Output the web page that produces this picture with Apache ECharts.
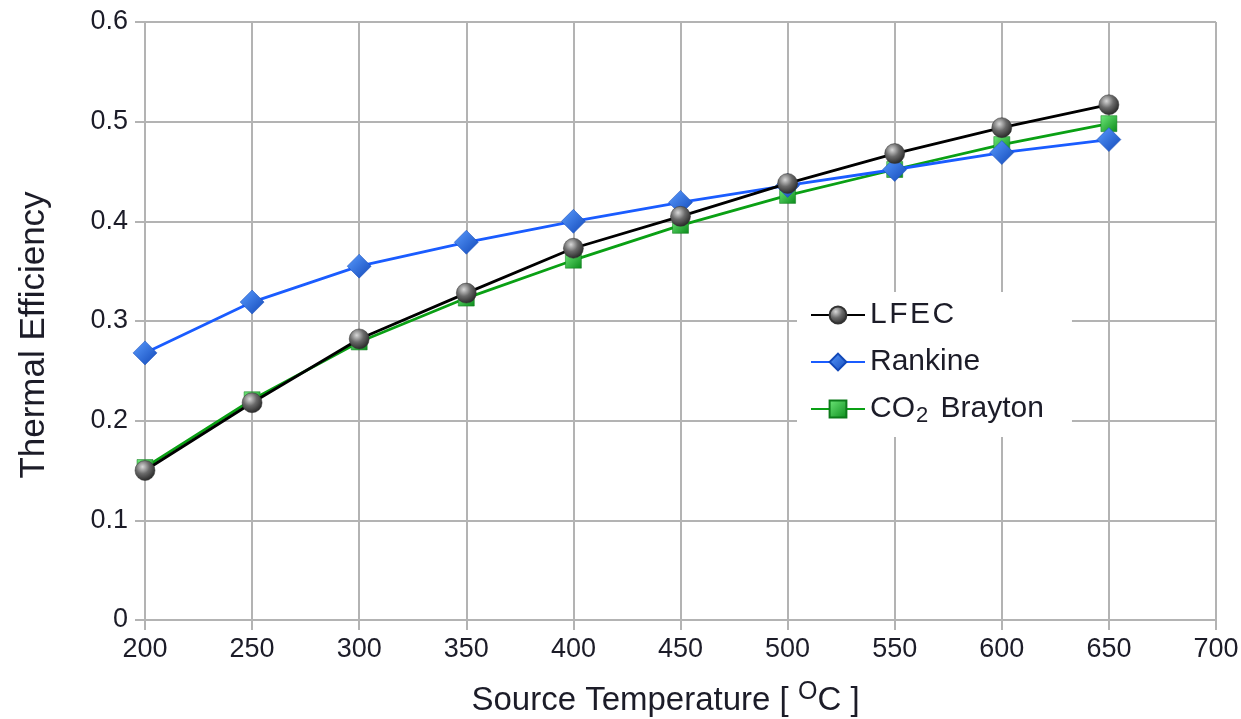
<!DOCTYPE html>
<html>
<head>
<meta charset="utf-8">
<script src="https://cdn.jsdelivr.net/npm/echarts@6/dist/echarts.min.js"></script>
<style>
  html, body { margin: 0; padding: 0; background: #fff; }
  #chart { width: 1241px; height: 719px; }
</style>
</head>
<body>
<div id="chart"></div>
<script>
// Source temperature (°C) and thermal efficiency per cycle
const temperatures = [200, 250, 300, 350, 400, 450, 500, 550, 600, 650];
const lfec = [0.150, 0.218, 0.282, 0.328, 0.373, 0.405, 0.438, 0.468, 0.494, 0.517];
const rankine = [0.268, 0.319, 0.355, 0.379, 0.400, 0.419, 0.436, 0.452, 0.469, 0.482];
const co2Brayton = [0.153, 0.221, 0.279, 0.323, 0.361, 0.396, 0.426, 0.452, 0.477, 0.498];
const seriesNames = ['LFEC', 'Rankine', 'CO2 Brayton'];

const FONT = '"Liberation Sans", Arial, sans-serif';
const TEXT = '#1c1c28';

function pairs(ys) { return temperatures.map((t, i) => [t, ys[i]]); }

function radial(c0, c1, c2) {
  return new echarts.graphic.RadialGradient(0.38, 0.32, 0.75, [
    { offset: 0, color: c0 }, { offset: 0.45, color: c1 }, { offset: 1, color: c2 }
  ]);
}
function linear(c0, c1) {
  return new echarts.graphic.LinearGradient(0, 0, 1, 1, [
    { offset: 0, color: c0 }, { offset: 1, color: c1 }
  ]);
}

const chart = echarts.init(document.getElementById('chart'), null, { renderer: 'canvas' });

chart.setOption({
  backgroundColor: '#ffffff',
  animation: false,
  grid: { left: 145, right: 25, top: 22, bottom: 99, containLabel: false, outerBoundsMode: 'none' },
  legend: {
    orient: 'vertical',
    left: 797,
    top: 292,
    padding: [8, 28, 10, 13],
    backgroundColor: '#ffffff',
    itemGap: 17,
    itemWidth: 54,
    itemHeight: 21,
    data: seriesNames,
    formatter: function (name) {
      if (name === 'CO2 Brayton') return '{t|CO}{s|2}{t| Brayton}';
      if (name === 'LFEC') return '{t|' + name.split('').join('\u200A') + '}';
      return '{t|' + name + '}';
    },
    textStyle: {
      fontFamily: FONT, fontSize: 30, color: TEXT,
      rich: {
        t: { fontFamily: FONT, fontSize: 30, color: TEXT },
        s: { fontFamily: FONT, fontSize: 22, color: TEXT, padding: [14, 4, 0, 1] }
      }
    }
  },
  xAxis: {
    type: 'value',
    min: 200, max: 700, interval: 50,
    name: 'Source Temperature [ {sup|O}C ]',
    nameLocation: 'middle',
    nameGap: 60,
    nameTextStyle: {
      fontFamily: FONT, fontSize: 33, color: TEXT, padding: [0, 30, 0, 0],
      rich: { sup: { fontFamily: FONT, fontSize: 25, color: TEXT, padding: [0, 0, 16, 0] } }
    },
    axisLine: { show: true, lineStyle: { color: '#b3b3b3', width: 2 } },
    axisTick: { show: true, length: 10, lineStyle: { color: '#b3b3b3', width: 2 } },
    axisLabel: { fontFamily: FONT, fontSize: 27, color: TEXT, margin: 16 },
    splitLine: { show: true, lineStyle: { color: '#b3b3b3', width: 2 } }
  },
  yAxis: {
    type: 'value',
    min: 0, max: 0.6, interval: 0.1,
    name: 'Thermal Efficiency',
    nameLocation: 'middle',
    nameGap: 93,
    nameRotate: 90,
    nameTextStyle: { fontFamily: FONT, fontSize: 35, color: TEXT, padding: [0, 28, 0, 0] },
    axisLine: { show: true, lineStyle: { color: '#b3b3b3', width: 2 } },
    axisTick: { show: true, length: 10, lineStyle: { color: '#b3b3b3', width: 2 } },
    axisLabel: {
      fontFamily: FONT, fontSize: 27, color: TEXT, margin: 17,
      formatter: v => (Math.round(v * 10) / 10).toString()
    },
    splitLine: { show: true, lineStyle: { color: '#b3b3b3', width: 2 } }
  },
  series: [
    {
      name: 'CO2 Brayton', type: 'line', data: pairs(co2Brayton), z: 3,
      symbol: 'rect', symbolSize: 16,
      lineStyle: { color: '#0aa014', width: 2.8 },
      itemStyle: { color: linear('#6fe87a', '#0a8a1a'), borderColor: '#0d7a1a', borderWidth: 0.5 }
    },
    {
      name: 'Rankine', type: 'line', data: pairs(rankine), z: 4,
      symbol: 'diamond', symbolSize: [24, 24],
      lineStyle: { color: '#1a5cff', width: 2.8 },
      itemStyle: { color: linear('#5a9cff', '#1248b8'), borderColor: '#1248b8', borderWidth: 0.5 }
    },
    {
      name: 'LFEC', type: 'line', data: pairs(lfec), z: 5,
      symbol: 'circle', symbolSize: 20,
      lineStyle: { color: '#000000', width: 2.8 },
      itemStyle: { color: radial('#d8d8d8', '#6a6a6a', '#1e1e1e'), borderColor: '#333', borderWidth: 0.5 }
    }
  ]
});
</script>
</body>
</html>
